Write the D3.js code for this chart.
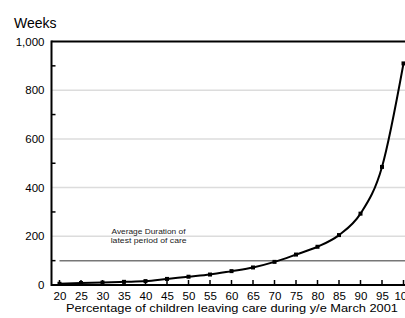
<!DOCTYPE html>
<html><head><meta charset="utf-8">
<script src="https://cdn.jsdelivr.net/npm/d3@7"></script>
<style>body{margin:0;background:#fff}svg{display:block;font-family:"Liberation Sans",Arial,sans-serif}</style>
</head><body><svg id="c" width="405" height="318"></svg>
<script>
const categories = ["20","25","30","35","40","45","50","55","60","65","70","75","80","85","90","95","100"];
const weeks = [5, 8, 10, 13, 16, 25, 34, 43, 57, 72, 95, 125, 157, 205, 293, 485, 910];
const averageDuration = 100;
const yTicks = [0, 200, 400, 600, 800, 1000];
const yMinorTicks = [100, 300, 500, 700, 900];

(function () {
const svg = d3.select("#c");
const mLeft = 51.5, mTop = 41.5, mBottom = 285;
const x = d3.scalePoint().domain(categories).range([59.5, 403.5]);
const y = d3.scaleLinear().domain([0, 1000]).range([mBottom, mTop]);

// gridlines
svg.append("g").selectAll("line").data(yTicks.filter(d => d > 0 && d < 1000)).join("line")
  .attr("x1", mLeft).attr("x2", 405).attr("y1", d => y(d)).attr("y2", d => y(d))
  .attr("stroke", "#dcdcdc").attr("stroke-width", 1.5);

// average line
svg.append("line").attr("x1", x("20")).attr("x2", 405)
  .attr("y1", y(averageDuration)).attr("y2", y(averageDuration))
  .attr("stroke", "#777").attr("stroke-width", 1.5);
svg.append("text").attr("x", 111.5).attr("y", 234).attr("font-size", 7.8).attr("fill", "#222")
  .attr("textLength", 74).attr("lengthAdjust", "spacingAndGlyphs").text("Average Duration of");
svg.append("text").attr("x", 110.7).attr("y", 243).attr("font-size", 7.8).attr("fill", "#222")
  .attr("textLength", 76).attr("lengthAdjust", "spacingAndGlyphs").text("latest period of care");

// top frame
svg.append("line").attr("x1", mLeft).attr("x2", 405).attr("y1", mTop).attr("y2", mTop).attr("stroke", "#000").attr("stroke-width", 2);

// y axis
const yAxis = d3.axisLeft(y).tickValues(yTicks).tickSize(0).tickPadding(7).tickFormat(d3.format(","));
const gy = svg.append("g").attr("transform", `translate(${mLeft},0)`).call(yAxis);
gy.select(".domain").remove();
gy.selectAll("text").attr("font-size", 11.5).attr("fill", "#000").attr("font-family", "Liberation Sans, Arial, sans-serif");
svg.append("g").selectAll("line").data(yMinorTicks).join("line")
  .attr("x1", mLeft).attr("x2", mLeft + 4).attr("y1", d => y(d)).attr("y2", d => y(d))
  .attr("stroke", "#000").attr("stroke-width", 1.5);
svg.append("line").attr("x1", mLeft).attr("x2", mLeft).attr("y1", mTop - 1).attr("y2", mBottom + 1).attr("stroke", "#000").attr("stroke-width", 2);

// x axis
const xAxis = d3.axisBottom(x).tickSize(0).tickPadding(7);
const gx = svg.append("g").attr("transform", `translate(0,${mBottom})`).call(xAxis);
gx.select(".domain").remove();
gx.selectAll("text").attr("font-size", 11.5).attr("fill", "#000").attr("font-family", "Liberation Sans, Arial, sans-serif");
svg.append("g").selectAll("line").data(categories).join("line")
  .attr("x1", d => x(d)).attr("x2", d => x(d)).attr("y1", mBottom).attr("y2", mBottom - 5)
  .attr("stroke", "#000").attr("stroke-width", 1.5);
svg.append("line").attr("x1", mLeft).attr("x2", 405).attr("y1", mBottom).attr("y2", mBottom).attr("stroke", "#000").attr("stroke-width", 2);

// line
const line = d3.line().x((d, i) => x(categories[i])).y(d => y(d)).curve(d3.curveMonotoneX);
svg.append("path").datum(weeks).attr("d", line).attr("fill", "none").attr("stroke", "#000").attr("stroke-width", 2);
svg.append("g").selectAll("rect").data(weeks).join("rect")
  .attr("x", (d, i) => x(categories[i]) - 2).attr("y", d => y(d) - 2)
  .attr("width", 4).attr("height", 4).attr("fill", "#000");

// titles
svg.append("text").attr("x", 14).attr("y", 28).attr("font-size", 14).attr("fill", "#000").text("Weeks");
svg.append("text").attr("x", 66).attr("y", 312).attr("font-size", 11).attr("fill", "#000")
  .attr("textLength", 332).attr("lengthAdjust", "spacingAndGlyphs")
  .text("Percentage of children leaving care during y/e March 2001");
})();
</script></body></html>
